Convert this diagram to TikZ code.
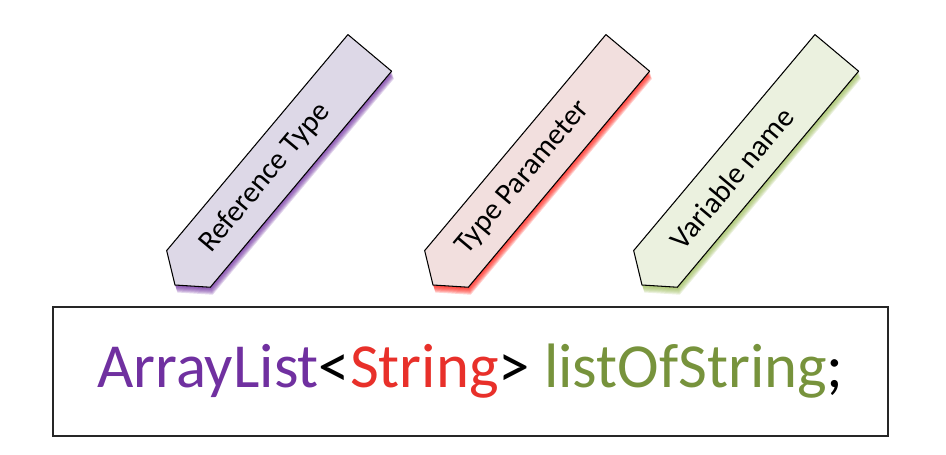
\documentclass[tikz,border=0pt]{standalone}
\usepackage{fontspec}
\setmainfont{Carlito}
\definecolor{refpurple}{HTML}{7030A0}
\definecolor{reffill}{HTML}{DDD8E7}
\definecolor{parred}{HTML}{E8302A}
\definecolor{parglow}{HTML}{FF1A10}
\definecolor{parfill}{HTML}{F2DFDE}
\definecolor{vargreen}{HTML}{77933C}
\definecolor{varglow}{HTML}{9BBB59}
\definecolor{varfill}{HTML}{EBF1DF}

\begin{document}
\begin{tikzpicture}[x = 0.02cm, y = 0.02cm,
    tagtext/.style = {font = \fontsize{17}{20}\selectfont, rotate = 50},
    codebox/.style = {draw = black!85, line width = 1.1pt, minimum width = 16.7cm, minimum height = 2.58cm,
        font = \fontsize{35.7}{40}\selectfont}]
    \useasboundingbox (0, 0) rectangle (946, 454);

    \foreach \tipx/\fillc/\glowc/\txt/\name in {175/reffill/refpurple/Reference Type/reftype,
        433/parfill/parglow/Type Parameter/typeparam, 642/varfill/varglow/Variable name/varname}{
        \begin{scope}[shift = {(\tipx, 169)}, rotate = 50]
            % soft glow below the tag
            \foreach \k in {1, ..., 7}{
                \fill[\glowc, opacity = 0.2, shift = {(-0.6*\k, -0.95*\k)}]
                    (0, 0) -- (21, 28.5) -- (303, 28.5) -- (303, -28.5) -- (21, -28.5) -- cycle;
            }
            \filldraw[fill = \fillc, draw = black, line width = 0.6pt, line join = round]
                (0, 0) -- (21, 28.5) -- (303, 28.5) -- (303, -28.5) -- (21, -28.5) -- cycle;
            \node[tagtext] (\name) at (140, 0) {\txt};
        \end{scope}
    }

    \node[codebox] (code) at (470.5, 82.5)
        {\textcolor{refpurple}{ArrayList}<\textcolor{parred}{String}> \textcolor{vargreen}{listOfString};};
\end{tikzpicture}
\end{document}
